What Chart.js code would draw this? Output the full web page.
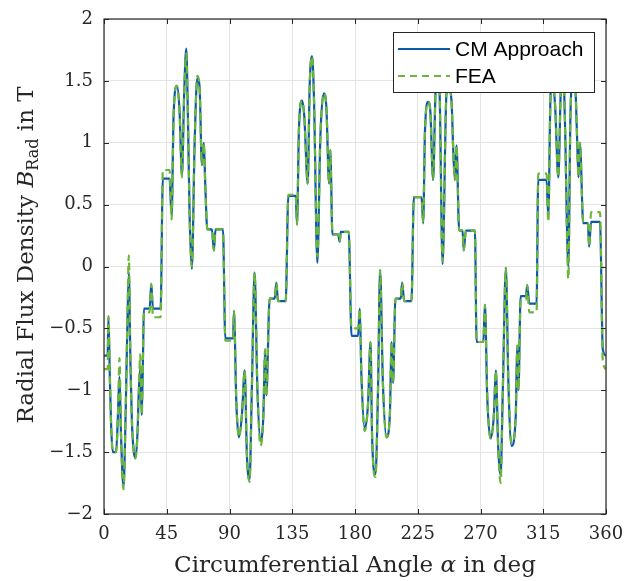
<!DOCTYPE html>
<html>
<head>
<meta charset="utf-8">
<script src="https://cdn.jsdelivr.net/npm/chart.js@4.4.0/dist/chart.umd.min.js"></script>
<style>
    html, body { margin: 0; padding: 0; background: #fff; }
    #wrap { width: 626px; height: 581px; }
</style>
</head>
<body>
<div id="wrap"><canvas id="fluxChart" width="626" height="581"></canvas></div>
<script>
// circumferential angle in deg (shared by both curves)
const angleDeg = [
    0, 2.6, 3.2, 4.2, 5.1, 6.3, 8.7, 10.0, 11.1, 12.3,
    14.0, 15.5, 16.8, 17.8, 19.0, 20.0, 21.2, 22.6, 24.0, 25.0,
    26.0, 27.1, 28.0, 28.6, 32.7, 33.9, 35.1, 40.6, 42.2, 47.0,
    48.5, 49.9, 52.3, 54.2, 55.9, 57.5, 59.0, 60.2, 61.4, 63.0,
    65.0, 66.9, 68.5, 70.2, 71.6, 72.6, 74.1, 77.4, 78.8, 80.0,
    85.3, 87.0, 92.5, 93.2, 94.9, 96.8, 98.9, 100.9, 102.5, 104.4,
    106.0, 108.0, 110.0, 112.3, 114.3, 115.5, 116.4, 118.8, 122.4, 123.6,
    124.8, 130.3, 132.2, 137.5, 138.4, 139.8, 142.0, 143.6, 146.1, 147.5,
    149.2, 150.6, 153.0, 155.2, 157.6, 159.5, 161.4, 162.3, 163.8, 167.9,
    169.0, 169.8, 175.5, 177.5, 182.2, 183.4, 184.6, 187.0, 189.4, 191.1,
    192.3, 194.7, 196.5, 198.0, 200.0, 202.6, 205.0, 206.2, 207.3, 209.0,
    212.8, 213.8, 215.3, 220.5, 222.2, 227.7, 228.9, 230.2, 232.5, 234.1,
    236.0, 237.7, 239.3, 240.8, 242.8, 245.6, 247.0, 249.2, 250.4, 251.6,
    252.8, 254.7, 257.1, 258.0, 259.5, 266.0, 267.2, 272.0, 273.2, 274.8,
    277.2, 279.6, 281.0, 282.7, 284.4, 286.0, 288.2, 290.0, 292.3, 295.3,
    296.3, 297.2, 298.8, 302.6, 303.5, 305.0, 310.2, 311.4, 317.4, 318.6,
    320.3, 322.0, 323.5, 325.8, 327.5, 329.0, 330.5, 333.0, 334.5, 336.3,
    338.0, 339.1, 340.3, 341.3, 343.7, 347.0, 347.9, 349.3, 355.7, 357.7,
    360
];

// CM approach, B_Rad in T
const cmApproach = [
    -0.72, -0.72, -0.41, -0.90, -1.28, -1.50, -1.50, -1.20, -0.89, -1.40,
    -1.78, -1.20, -0.45, -0.05, -0.80, -1.25, -1.48, -1.55, -1.35, -1.00,
    -0.82, -1.20, -0.70, -0.34, -0.34, -0.14, -0.34, -0.34, 0.71, 0.71,
    0.41, 1.22, 1.46, 1.25, 0.74, 1.40, 1.76, 1.20, 0.41, -0.02,
    1.00, 1.52, 1.46, 0.82, 1.00, 0.67, 0.30, 0.30, 0.13, 0.30,
    0.30, -0.58, -0.58, -0.36, -1.10, -1.38, -1.20, -0.84, -1.53, -1.72,
    -1.00, -0.05, -0.99, -1.41, -1.20, -0.67, -1.04, -0.26, -0.26, -0.13,
    -0.28, -0.28, 0.57, 0.57, 0.34, 1.11, 1.34, 1.22, 0.67, 1.46,
    1.70, 1.35, 0.03, 1.06, 1.40, 1.28, 0.67, 0.94, 0.26, 0.26,
    0.20, 0.28, 0.28, -0.56, -0.56, -0.34, -0.88, -1.31, -1.10, -0.61,
    -1.39, -1.68, -1.00, -0.03, -0.94, -1.38, -1.20, -0.61, -0.94, -0.26,
    -0.26, -0.13, -0.28, -0.28, 0.56, 0.56, 0.35, 1.10, 1.33, 1.24,
    0.70, 1.40, 1.70, 1.35, 0.02, 1.40, 1.45, 1.34, 0.96, 0.70,
    0.98, 0.29, 0.29, 0.13, 0.29, 0.29, -0.61, -0.61, -0.31, -1.04,
    -1.39, -1.20, -0.84, -1.46, -1.69, -1.00, -0.01, -0.94, -1.45, -1.20,
    -0.64, -1.00, -0.24, -0.24, -0.15, -0.30, -0.30, 0.70, 0.70, 0.40,
    1.40, 1.48, 1.30, 0.72, 1.40, 1.72, 1.20, 0.00, 1.22, 1.52,
    1.45, 1.10, 0.72, 1.00, 0.35, 0.35, 0.16, 0.36, 0.36, -0.67,
    -0.72
];

// FEA, B_Rad in T
const fea = [
    -0.83, -0.83, -0.40, -0.90, -1.28, -1.50, -1.50, -1.20, -0.74, -1.40,
    -1.80, -1.20, -0.40, 0.09, -0.80, -1.25, -1.48, -1.55, -1.35, -1.00,
    -0.71, -1.20, -0.70, -0.37, -0.37, -0.14, -0.41, -0.41, 0.78, 0.78,
    0.38, 1.22, 1.46, 1.25, 0.72, 1.40, 1.72, 1.20, 0.41, 0.00,
    1.00, 1.54, 1.46, 0.82, 1.00, 0.67, 0.30, 0.30, 0.13, 0.30,
    0.30, -0.60, -0.60, -0.36, -1.10, -1.38, -1.20, -0.84, -1.53, -1.74,
    -1.00, -0.05, -0.99, -1.45, -1.20, -0.67, -1.04, -0.26, -0.26, -0.13,
    -0.28, -0.28, 0.58, 0.58, 0.34, 1.11, 1.34, 1.22, 0.67, 1.46,
    1.70, 1.35, 0.08, 1.06, 1.40, 1.28, 0.67, 0.94, 0.26, 0.26,
    0.20, 0.28, 0.28, -0.50, -0.50, -0.34, -0.88, -1.33, -1.10, -0.61,
    -1.39, -1.70, -1.00, -0.03, -0.94, -1.38, -1.20, -0.61, -0.94, -0.26,
    -0.26, -0.13, -0.28, -0.28, 0.56, 0.56, 0.35, 1.10, 1.33, 1.24,
    0.70, 1.40, 1.70, 1.35, 0.04, 1.40, 1.45, 1.34, 0.96, 0.70,
    0.98, 0.29, 0.29, 0.13, 0.29, 0.29, -0.61, -0.61, -0.31, -1.04,
    -1.39, -1.20, -0.84, -1.46, -1.75, -1.00, -0.01, -0.94, -1.43, -1.20,
    -0.64, -1.00, -0.27, -0.27, -0.15, -0.37, -0.37, 0.75, 0.75, 0.36,
    1.40, 1.48, 1.30, 0.72, 1.40, 1.72, 1.20, -0.10, 1.22, 1.52,
    1.45, 1.10, 0.72, 1.00, 0.35, 0.35, 0.16, 0.44, 0.44, -0.76,
    -0.83
];

const xTicks = [0, 45, 90, 135, 180, 225, 270, 315, 360];
const yTicks = [-2, -1.5, -1, -0.5, 0, 0.5, 1, 1.5, 2];
const seriesNames = ['CM Approach', 'FEA'];

const blue = '#0a5aa8';
const green = '#6cb43a';
const frameColor = '#262626';
const serif = '"DejaVu Serif", serif';

// 축 박스, 안쪽 눈금, 축 제목, 범례를 직접 그림 (MATLAB 스타일)
const matlabDecor = {
    id: 'matlabDecor',
    afterDraw(chart) {
        const ctx = chart.ctx;
        const a = chart.chartArea;
        const xs = chart.scales.x;
        const ys = chart.scales.y;
        ctx.save();

        // inward tick marks on all four sides
        ctx.strokeStyle = frameColor;
        ctx.lineWidth = 1;
        ctx.beginPath();
        xTicks.forEach(t => {
            const px = Math.round(xs.getPixelForValue(t)) + 0.5;
            ctx.moveTo(px, a.bottom); ctx.lineTo(px, a.bottom - 5);
            ctx.moveTo(px, a.top); ctx.lineTo(px, a.top + 5);
        });
        yTicks.forEach(t => {
            const py = Math.round(ys.getPixelForValue(t)) + 0.5;
            ctx.moveTo(a.left, py); ctx.lineTo(a.left + 5, py);
            ctx.moveTo(a.right, py); ctx.lineTo(a.right - 5, py);
        });
        ctx.stroke();

        // box
        ctx.lineWidth = 1.2;
        ctx.strokeRect(a.left, a.top, a.right - a.left, a.bottom - a.top);

        // x title: Circumferential Angle α in deg
        ctx.fillStyle = frameColor;
        ctx.textBaseline = 'alphabetic';
        const parts = (list) => list.map(p => {
            ctx.font = p.font;
            return Object.assign({ w: ctx.measureText(p.text).width }, p);
        });
        const xParts = parts([
            { text: 'Circumferential Angle ', font: '23px ' + serif, dy: 0 },
            { text: 'α', font: 'italic 23px ' + serif, dy: 0 },
            { text: ' in deg', font: '23px ' + serif, dy: 0 }
        ]);
        let total = xParts.reduce((s, p) => s + p.w, 0);
        let cx = (a.left + a.right) / 2 - total / 2;
        xParts.forEach(p => {
            ctx.font = p.font;
            ctx.textAlign = 'left';
            ctx.fillText(p.text, cx, 572 + p.dy);
            cx += p.w;
        });

        // y title: Radial Flux Density B_Rad in T
        const yParts = parts([
            { text: 'Radial Flux Density ', font: '23px ' + serif, dy: 0 },
            { text: 'B', font: 'italic 23px ' + serif, dy: 0 },
            { text: 'Rad', font: '16px ' + serif, dy: 5 },
            { text: ' in T', font: '23px ' + serif, dy: 0 }
        ]);
        total = yParts.reduce((s, p) => s + p.w, 0);
        ctx.translate(33, 255);
        ctx.rotate(-Math.PI / 2);
        cx = -total / 2;
        yParts.forEach(p => {
            ctx.font = p.font;
            ctx.textAlign = 'left';
            ctx.fillText(p.text, cx, p.dy);
            cx += p.w;
        });
        ctx.restore();

        // legend inside the axes (north-east)
        ctx.save();
        const lx = a.right - 213, ly = a.top + 13, lw = 201, lh = 60;
        ctx.fillStyle = '#fff';
        ctx.fillRect(lx, ly, lw, lh);
        ctx.strokeStyle = frameColor;
        ctx.lineWidth = 1;
        ctx.strokeRect(lx + 0.5, ly + 0.5, lw, lh);
        const rows = [
            { name: seriesNames[0], color: blue, dash: [], y: ly + 17 },
            { name: seriesNames[1], color: green, dash: [7, 5], y: ly + 44 }
        ];
        rows.forEach(r => {
            ctx.strokeStyle = r.color;
            ctx.lineWidth = 2;
            ctx.setLineDash(r.dash);
            ctx.beginPath();
            ctx.moveTo(lx + 5, r.y);
            ctx.lineTo(lx + 57, r.y);
            ctx.stroke();
            ctx.setLineDash([]);
            ctx.fillStyle = '#000';
            ctx.font = '21px "Liberation Sans", Arial, sans-serif';
            ctx.textAlign = 'left';
            ctx.textBaseline = 'middle';
            ctx.fillText(r.name, lx + 62, r.y + 1);
        });
        ctx.restore();
    }
};

const fixTicks = (values) => (scale) => {
    scale.ticks = values.map(v => ({ value: v }));
};

const ctx = document.getElementById('fluxChart').getContext('2d');
new Chart(ctx, {
    type: 'line',
    data: {
        datasets: [
            {
                label: seriesNames[1],
                data: angleDeg.map((x, i) => ({ x: x, y: fea[i] })),
                borderColor: green,
                borderWidth: 2.2,
                borderDash: [8, 5],
                pointRadius: 0,
                cubicInterpolationMode: 'monotone',
                fill: false,
                order: 0
            },
            {
                label: seriesNames[0],
                data: angleDeg.map((x, i) => ({ x: x, y: cmApproach[i] })),
                borderColor: blue,
                borderWidth: 2.2,
                pointRadius: 0,
                cubicInterpolationMode: 'monotone',
                fill: false,
                order: 1
            }
        ]
    },
    options: {
        responsive: false,
        devicePixelRatio: 1,
        animation: false,
        layout: { padding: { left: 0, right: 20, top: 19, bottom: 0 } },
        plugins: {
            legend: { display: false },
            tooltip: { enabled: false }
        },
        scales: {
            x: {
                type: 'linear',
                min: 0,
                max: 360,
                afterBuildTicks: fixTicks(xTicks),
                afterFit: (scale) => {
                    scale.height = 67;
                    scale.paddingLeft = 0;
                    scale.paddingRight = 0;
                },
                grid: { color: '#e4e4e4', drawTicks: false },
                border: { display: false },
                ticks: {
                    padding: 10,
                    color: frameColor,
                    font: { family: serif, size: 18 }
                }
            },
            y: {
                type: 'linear',
                min: -2,
                max: 2,
                afterBuildTicks: fixTicks(yTicks),
                afterFit: (scale) => {
                    scale.width = 104;
                    scale.paddingTop = 0;
                    scale.paddingBottom = 0;
                },
                grid: { color: '#e4e4e4', drawTicks: false },
                border: { display: false },
                ticks: {
                    padding: 11,
                    color: frameColor,
                    font: { family: serif, size: 18 },
                    callback: (v) => String(v).replace('-', '\u2212')
                }
            }
        }
    },
    plugins: [matlabDecor]
});
</script>
</body>
</html>
